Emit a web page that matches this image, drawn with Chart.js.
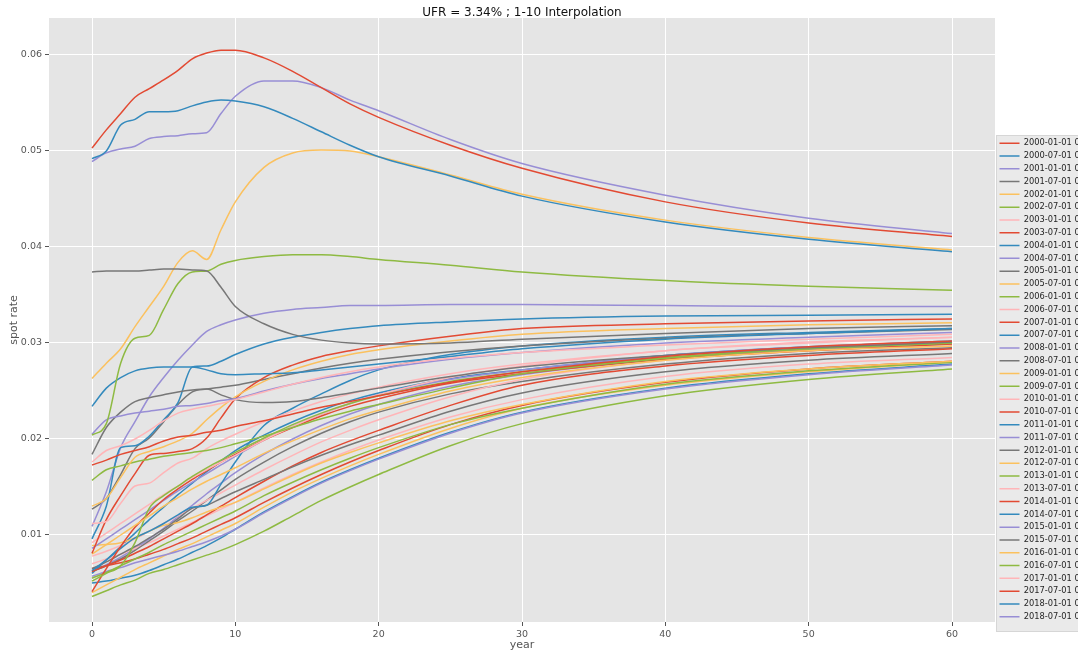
<!DOCTYPE html>
<html>
<head>
<meta charset="utf-8">
<script src="https://cdn.jsdelivr.net/npm/chart.js"></script>
<style>
  html, body { margin: 0; padding: 0; background: #fff; overflow: hidden; }
  #wrap { width: 1078px; height: 652px; position: relative; }
</style>
</head>
<body>
<div id="wrap"><canvas id="curves"></canvas></div>
<script>
// maturities (years) at which each curve is read
const years = [0, 1, 2, 3, 4, 5, 6, 7, 8, 9, 10, 12, 14, 16, 18, 20, 25, 30, 40, 50, 60];

const dates = [
  '2000-01-01', '2000-07-01', '2001-01-01', '2001-07-01', '2002-01-01', '2002-07-01',
  '2003-01-01', '2003-07-01', '2004-01-01', '2004-07-01', '2005-01-01', '2005-07-01',
  '2006-01-01', '2006-07-01', '2007-01-01', '2007-07-01', '2008-01-01', '2008-07-01',
  '2009-01-01', '2009-07-01', '2010-01-01', '2010-07-01', '2011-01-01', '2011-07-01',
  '2012-01-01', '2012-07-01', '2013-01-01', '2013-07-01', '2014-01-01', '2014-07-01',
  '2015-01-01', '2015-07-01', '2016-01-01', '2016-07-01', '2017-01-01', '2017-07-01',
  '2018-01-01', '2018-07-01'
];

const s2000_01 = [0.0503, 0.0522, 0.0539, 0.0556, 0.0565, 0.0574, 0.0584, 0.0596, 0.0602, 0.0605, 0.0605, 0.0597, 0.0583, 0.0566, 0.0549, 0.0535, 0.0506, 0.0482, 0.0447, 0.0425, 0.0411];
const s2000_07 = [0.0492, 0.0500, 0.0527, 0.0533, 0.0541, 0.0541, 0.0542, 0.0547, 0.0551, 0.0553, 0.0552, 0.0546, 0.0534, 0.0520, 0.0506, 0.0494, 0.0474, 0.0453, 0.0426, 0.0408, 0.0395];
const s2001_01 = [0.0489, 0.0498, 0.0502, 0.0505, 0.0513, 0.0515, 0.0516, 0.0518, 0.0519, 0.0539, 0.0557, 0.0573, 0.0573, 0.0566, 0.0553, 0.0542, 0.0512, 0.0487, 0.0454, 0.0430, 0.0414];
const s2001_07 = [0.0374, 0.0375, 0.0375, 0.0375, 0.0376, 0.0377, 0.0377, 0.0376, 0.0375, 0.0358, 0.0338, 0.0320, 0.0309, 0.0303, 0.0300, 0.0299, 0.0300, 0.0304, 0.0310, 0.0315, 0.0318];
const s2002_01 = [0.0263, 0.0279, 0.0294, 0.0317, 0.0338, 0.0359, 0.0384, 0.0396, 0.0387, 0.0418, 0.0447, 0.0483, 0.0498, 0.0501, 0.0500, 0.0494, 0.0475, 0.0455, 0.0428, 0.0410, 0.0397];
const s2002_07 = [0.0204, 0.0216, 0.0279, 0.0305, 0.0308, 0.0335, 0.0362, 0.0374, 0.0375, 0.0382, 0.0386, 0.0390, 0.0392, 0.0392, 0.0390, 0.0387, 0.0381, 0.0374, 0.0365, 0.0359, 0.0355];
const s2003_01 = [0.0176, 0.0188, 0.0193, 0.0200, 0.0209, 0.0219, 0.0227, 0.0231, 0.0234, 0.0237, 0.0241, 0.0249, 0.0257, 0.0264, 0.0270, 0.0275, 0.0284, 0.0290, 0.0298, 0.0304, 0.0309];
const s2003_07 = [0.0173, 0.0178, 0.0184, 0.0188, 0.0192, 0.0198, 0.0202, 0.0204, 0.0207, 0.0209, 0.0213, 0.0219, 0.0226, 0.0233, 0.0239, 0.0245, 0.0259, 0.0270, 0.0286, 0.0296, 0.0302];
const s2004_01 = [0.0234, 0.0253, 0.0264, 0.0271, 0.0274, 0.0275, 0.0275, 0.0275, 0.0272, 0.0268, 0.0267, 0.0268, 0.0269, 0.0272, 0.0275, 0.0278, 0.0286, 0.0294, 0.0304, 0.0310, 0.0315];
const s2004_07 = [0.0205, 0.0220, 0.0224, 0.0227, 0.0229, 0.0231, 0.0234, 0.0235, 0.0237, 0.0240, 0.0242, 0.0250, 0.0257, 0.0263, 0.0268, 0.0273, 0.0283, 0.0290, 0.0300, 0.0306, 0.0311];
const s2005_01 = [0.0184, 0.0212, 0.0228, 0.0239, 0.0243, 0.0246, 0.0249, 0.0251, 0.0252, 0.0246, 0.0241, 0.0238, 0.0239, 0.0243, 0.0248, 0.0253, 0.0265, 0.0275, 0.0287, 0.0295, 0.0301];
const s2005_07 = [0.0130, 0.0138, 0.0160, 0.0181, 0.0187, 0.0192, 0.0198, 0.0206, 0.0220, 0.0233, 0.0244, 0.0260, 0.0272, 0.0281, 0.0288, 0.0293, 0.0302, 0.0309, 0.0315, 0.0319, 0.0321];
const s2006_01 = [0.0157, 0.0168, 0.0172, 0.0176, 0.0179, 0.0182, 0.0184, 0.0186, 0.0188, 0.0191, 0.0195, 0.0203, 0.0212, 0.0221, 0.0229, 0.0236, 0.0253, 0.0268, 0.0284, 0.0294, 0.0300];
const s2006_07 = [0.0112, 0.0114, 0.0133, 0.0151, 0.0154, 0.0165, 0.0175, 0.0180, 0.0190, 0.0198, 0.0205, 0.0218, 0.0229, 0.0239, 0.0247, 0.0254, 0.0268, 0.0278, 0.0292, 0.0300, 0.0306];
const s2007_01 = [0.0081, 0.0116, 0.0141, 0.0164, 0.0183, 0.0185, 0.0187, 0.0190, 0.0201, 0.0222, 0.0242, 0.0264, 0.0277, 0.0286, 0.0292, 0.0297, 0.0307, 0.0315, 0.0320, 0.0323, 0.0325];
const s2007_07 = [0.0096, 0.0130, 0.0191, 0.0193, 0.0203, 0.0220, 0.0238, 0.0275, 0.0276, 0.0281, 0.0288, 0.0299, 0.0306, 0.0311, 0.0315, 0.0318, 0.0322, 0.0325, 0.0328, 0.0329, 0.0330];
const s2008_01 = [0.0109, 0.0145, 0.0191, 0.0218, 0.0244, 0.0264, 0.0282, 0.0298, 0.0312, 0.0319, 0.0324, 0.0331, 0.0335, 0.0337, 0.0339, 0.0339, 0.0340, 0.0340, 0.0339, 0.0338, 0.0338];
const s2008_07 = [0.0127, 0.0138, 0.0163, 0.0190, 0.0201, 0.0218, 0.0236, 0.0249, 0.0252, 0.0254, 0.0256, 0.0262, 0.0268, 0.0274, 0.0279, 0.0283, 0.0291, 0.0297, 0.0305, 0.0310, 0.0314];
const s2009_01 = [0.0080, 0.0090, 0.0100, 0.0110, 0.0120, 0.0130, 0.0139, 0.0148, 0.0156, 0.0163, 0.0170, 0.0185, 0.0198, 0.0210, 0.0221, 0.0230, 0.0250, 0.0264, 0.0282, 0.0292, 0.0297];
const s2009_07 = [0.0052, 0.0060, 0.0068, 0.0092, 0.0128, 0.0141, 0.0151, 0.0161, 0.0170, 0.0178, 0.0186, 0.0201, 0.0215, 0.0227, 0.0237, 0.0245, 0.0260, 0.0270, 0.0285, 0.0294, 0.0300];
const s2010_01 = [0.0092, 0.0102, 0.0112, 0.0122, 0.0132, 0.0142, 0.0151, 0.0160, 0.0168, 0.0176, 0.0183, 0.0199, 0.0213, 0.0226, 0.0237, 0.0246, 0.0264, 0.0276, 0.0292, 0.0301, 0.0306];
const s2010_07 = [0.0041, 0.0065, 0.0088, 0.0108, 0.0123, 0.0137, 0.0148, 0.0158, 0.0167, 0.0176, 0.0184, 0.0199, 0.0212, 0.0224, 0.0234, 0.0242, 0.0258, 0.0268, 0.0283, 0.0292, 0.0299];
const s2011_01 = [0.0063, 0.0074, 0.0086, 0.0097, 0.0104, 0.0112, 0.0121, 0.0129, 0.0131, 0.0153, 0.0176, 0.0214, 0.0232, 0.0247, 0.0261, 0.0272, 0.0288, 0.0297, 0.0306, 0.0311, 0.0315];
const s2011_07 = [0.0086, 0.0096, 0.0106, 0.0116, 0.0126, 0.0136, 0.0146, 0.0155, 0.0164, 0.0173, 0.0182, 0.0199, 0.0213, 0.0226, 0.0237, 0.0246, 0.0262, 0.0272, 0.0287, 0.0296, 0.0301];
const s2012_01 = [0.0065, 0.0072, 0.0080, 0.0088, 0.0097, 0.0106, 0.0117, 0.0128, 0.0131, 0.0138, 0.0145, 0.0158, 0.0171, 0.0183, 0.0194, 0.0204, 0.0229, 0.0248, 0.0270, 0.0282, 0.0289];
const s2012_07 = [0.0089, 0.0090, 0.0092, 0.0097, 0.0104, 0.0110, 0.0113, 0.0118, 0.0124, 0.0129, 0.0134, 0.0148, 0.0162, 0.0175, 0.0186, 0.0196, 0.0219, 0.0236, 0.0260, 0.0273, 0.0281];
const s2013_01 = [0.0055, 0.0061, 0.0068, 0.0075, 0.0082, 0.0090, 0.0097, 0.0104, 0.0111, 0.0118, 0.0125, 0.0141, 0.0155, 0.0168, 0.0180, 0.0191, 0.0215, 0.0232, 0.0257, 0.0271, 0.0280];
const s2013_07 = [0.0078, 0.0083, 0.0089, 0.0096, 0.0104, 0.0112, 0.0120, 0.0128, 0.0136, 0.0144, 0.0152, 0.0168, 0.0183, 0.0197, 0.0209, 0.0220, 0.0244, 0.0262, 0.0282, 0.0292, 0.0297];
const s2014_01 = [0.0062, 0.0068, 0.0074, 0.0081, 0.0088, 0.0096, 0.0104, 0.0112, 0.0121, 0.0130, 0.0139, 0.0156, 0.0172, 0.0186, 0.0198, 0.0209, 0.0235, 0.0256, 0.0276, 0.0287, 0.0294];
const s2014_07 = [0.0060, 0.0074, 0.0088, 0.0102, 0.0116, 0.0129, 0.0142, 0.0154, 0.0166, 0.0177, 0.0188, 0.0204, 0.0218, 0.0230, 0.0240, 0.0248, 0.0263, 0.0272, 0.0287, 0.0296, 0.0302];
const s2015_01 = [0.0057, 0.0062, 0.0066, 0.0071, 0.0075, 0.0079, 0.0083, 0.0088, 0.0093, 0.0099, 0.0106, 0.0123, 0.0139, 0.0154, 0.0167, 0.0179, 0.0206, 0.0227, 0.0252, 0.0267, 0.0277];
const s2015_07 = [0.0062, 0.0068, 0.0075, 0.0084, 0.0094, 0.0104, 0.0115, 0.0125, 0.0136, 0.0147, 0.0158, 0.0176, 0.0192, 0.0206, 0.0218, 0.0228, 0.0247, 0.0260, 0.0278, 0.0289, 0.0295];
const s2016_01 = [0.0040, 0.0048, 0.0056, 0.0064, 0.0071, 0.0078, 0.0085, 0.0091, 0.0098, 0.0105, 0.0112, 0.0129, 0.0145, 0.0159, 0.0172, 0.0184, 0.0211, 0.0232, 0.0256, 0.0270, 0.0280];
const s2016_07 = [0.0036, 0.0042, 0.0048, 0.0053, 0.0060, 0.0064, 0.0069, 0.0074, 0.0079, 0.0084, 0.0090, 0.0104, 0.0120, 0.0136, 0.0150, 0.0163, 0.0193, 0.0216, 0.0245, 0.0262, 0.0273];
const s2017_01 = [0.0070, 0.0075, 0.0080, 0.0086, 0.0092, 0.0099, 0.0106, 0.0113, 0.0120, 0.0127, 0.0134, 0.0149, 0.0163, 0.0176, 0.0188, 0.0199, 0.0223, 0.0241, 0.0265, 0.0278, 0.0285];
const s2017_07 = [0.0065, 0.0068, 0.0071, 0.0075, 0.0080, 0.0085, 0.0091, 0.0097, 0.0104, 0.0111, 0.0118, 0.0134, 0.0149, 0.0163, 0.0176, 0.0188, 0.0215, 0.0235, 0.0259, 0.0273, 0.0281];
const s2018_01 = [0.0050, 0.0052, 0.0055, 0.0058, 0.0063, 0.0069, 0.0075, 0.0082, 0.0089, 0.0097, 0.0106, 0.0124, 0.0140, 0.0155, 0.0168, 0.0180, 0.0207, 0.0228, 0.0253, 0.0268, 0.0278];
const s2018_07 = [0.0062, 0.0069, 0.0077, 0.0086, 0.0096, 0.0107, 0.0119, 0.0131, 0.0143, 0.0154, 0.0165, 0.0184, 0.0200, 0.0214, 0.0226, 0.0236, 0.0255, 0.0267, 0.0283, 0.0293, 0.0299];

const curves = [
  s2000_01, s2000_07, s2001_01, s2001_07, s2002_01, s2002_07, s2003_01, s2003_07,
  s2004_01, s2004_07, s2005_01, s2005_07, s2006_01, s2006_07, s2007_01, s2007_07,
  s2008_01, s2008_07, s2009_01, s2009_07, s2010_01, s2010_07, s2011_01, s2011_07,
  s2012_01, s2012_07, s2013_01, s2013_07, s2014_01, s2014_07, s2015_01, s2015_07,
  s2016_01, s2016_07, s2017_01, s2017_07, s2018_01, s2018_07
];

// matplotlib "ggplot" colour cycle
const palette = ['#E24A33', '#348ABD', '#988ED5', '#777777', '#FBC15E', '#8EBA42', '#FFB5B8'];

const FONT = "'DejaVu Sans', sans-serif";
const LEGEND_W = 83;     // plot area ends at x = 995
const LEGEND_TOP = 134.5;

const datasets = curves.map((vals, i) => ({
  label: dates[i] + ' 00:00:00',
  data: years.map((x, k) => ({ x, y: vals[k] })),
  borderColor: palette[i % palette.length],
  backgroundColor: palette[i % palette.length],
  borderWidth: 1.5,
  pointRadius: 0,
  pointHitRadius: 0,
  pointStyle: 'line',
  fill: false,
  cubicInterpolationMode: 'monotone'
}));

// grey plot background + legend frame
const ggBackground = {
  id: 'ggBackground',
  beforeDraw(chart) {
    const { ctx, chartArea: a } = chart;
    ctx.save();
    ctx.fillStyle = '#E5E5E5';
    ctx.fillRect(a.left, a.top, a.right - a.left, a.bottom - a.top);
    ctx.fillStyle = '#EAEAEA';
    ctx.strokeStyle = '#D6D6D6';
    ctx.lineWidth = 1;
    ctx.fillRect(996.5, LEGEND_TOP + 1, 100, 496);
    ctx.strokeRect(996.5, LEGEND_TOP + 1, 100, 496);
    ctx.restore();
  }
};

// keep the legend narrow (its labels run off the page, as in the original) and lower it
const legendPlace = {
  id: 'legendPlace',
  beforeLayout(chart) {
    const lg = chart.legend;
    if (lg && !lg._fixedWidth) {
      const fit = lg.fit;
      lg.fit = function () { fit.call(this); this.width = LEGEND_W; };
      lg._fixedWidth = true;
    }
  },
  afterLayout(chart) {
    const lg = chart.legend;
    if (lg) { lg.top = LEGEND_TOP; lg.bottom = 652; }
  }
};

new Chart(document.getElementById('curves'), {
  type: 'line',
  data: { datasets },
  options: {
    responsive: true,
    maintainAspectRatio: false,
    animation: false,
    events: [],
    layout: { padding: 0 },
    plugins: {
      title: {
        display: true,
        text: 'UFR = 3.34% ; 1-10 Interpolation',
        color: '#111',
        fullSize: false,
        font: { family: FONT, size: 12, weight: 'normal', lineHeight: 1 },
        padding: { top: 7, bottom: -1 }
      },
      legend: {
        display: true,
        position: 'right',
        align: 'start',
        labels: {
          usePointStyle: true,
          pointStyle: 'line',
          pointStyleWidth: 20,
          padding: 4.5,
          color: '#262626',
          font: { family: FONT, size: 8.3 }
        }
      },
      tooltip: { enabled: false }
    },
    scales: {
      x: {
        type: 'linear',
        min: -3,
        max: 63,
        ticks: { stepSize: 10, includeBounds: false, color: '#555', padding: 3, maxRotation: 0, font: { family: FONT, size: 9.5 } },
        grid: { color: '#FFFFFF', lineWidth: 1, tickColor: '#555', tickLength: 4 },
        border: { display: false },
        title: { display: true, text: 'year', color: '#555', font: { family: FONT, size: 11 }, padding: { top: 0, bottom: 0 } },
        afterFit(scale) { scale.height = 30; }
      },
      y: {
        type: 'linear',
        min: 0.0009375,
        max: 0.063854,
        ticks: {
          stepSize: 0.01, includeBounds: false, color: '#555', padding: 3,
          font: { family: FONT, size: 9.5 },
          callback: v => v.toFixed(2)
        },
        grid: { color: '#FFFFFF', lineWidth: 1, tickColor: '#555', tickLength: 4 },
        border: { display: false },
        title: { display: true, text: 'spot rate', color: '#555', font: { family: FONT, size: 11 }, padding: { top: 8, bottom: 0 } },
        afterFit(scale) { scale.width = 49; }
      }
    }
  },
  plugins: [ggBackground, legendPlace]
});
</script>
</body>
</html>
